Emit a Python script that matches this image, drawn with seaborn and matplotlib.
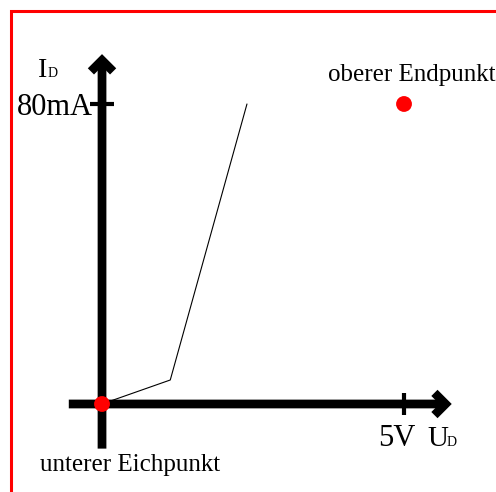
import matplotlib
matplotlib.use("Agg")
import matplotlib.pyplot as plt
import seaborn as sns
import pandas as pd
from matplotlib.patches import Rectangle

# Kennlinie (U in V, I in mA)
curve_u = [0.0, 1.13, 2.4]
curve_i = [0.0, 6.4, 80.0]

# Eichpunkte
point_names = ["unterer Eichpunkt", "oberer Endpunkt"]
point_u = [0.0, 5.0]
point_i = [0.0, 80.0]

# Achsenmarken
tick_u = 5.0
tick_i = 80.0
tick_u_label = "5V"
tick_i_label = "80mA"

sns.set_style("white")
plt.rcParams["font.family"] = ["Liberation Serif", "DejaVu Serif"]
plt.rcParams["text.color"] = "black"

fig = plt.figure(figsize=(4.96, 4.92), dpi=100)
ax = fig.add_axes([0, 0, 1, 1])
ax.set_xlim(-1.689, 6.523)
ax.set_ylim(-23.47, 107.73)
ax.axis("off")

# Achsen mit Pfeilen
arrow = dict(arrowstyle="->, head_length=0.8, head_width=0.8", lw=6.3,
             color="black", shrinkA=0, shrinkB=0, joinstyle="miter",
             capstyle="butt")
ax.annotate("", xy=(5.79, 0), xytext=(-0.55, 0), arrowprops=arrow)
ax.annotate("", xy=(0, 93.3), xytext=(0, -11.9), arrowprops=arrow)

# Striche
ax.plot([tick_u, tick_u], [-2.9, 2.9], color="black", lw=3, solid_capstyle="butt")
ax.plot([-0.2, 0.2], [tick_i, tick_i], color="black", lw=3, solid_capstyle="butt")

df_curve = pd.DataFrame({"U": curve_u, "I": curve_i})
sns.lineplot(data=df_curve, x="U", y="I", ax=ax, color="black", lw=0.8,
             sort=False, estimator=None)

df_pts = pd.DataFrame({"U": point_u, "I": point_i, "name": point_names})
sns.scatterplot(data=df_pts, x="U", y="I", ax=ax, color="red", s=130,
                edgecolor="none", zorder=5, legend=False)

# Beschriftungen
ax.text(-0.15, 77.1, tick_i_label, ha="right", va="baseline", fontsize=22)
ax.text(4.57, -11.2, tick_u_label, ha="left", va="baseline", fontsize=22)
ax.text(-1.06, 87.2, "I", ha="left", va="baseline", fontsize=20)
ax.text(-0.91, 87.2, "D", ha="left", va="baseline", fontsize=10)
ax.text(5.38, -11.2, "U", ha="left", va="baseline", fontsize=21)
ax.text(5.71, -11.2, "D", ha="left", va="baseline", fontsize=10)
ax.text(5.12, 86.1, point_names[1], ha="center", va="baseline", fontsize=18)
ax.text(-1.03, -17.9, point_names[0], ha="left", va="baseline", fontsize=18)

# roter Rahmen (links und oben)
fig.add_artist(Rectangle((11 / 496, -0.2), 2.0, 1.2 - 10.5 / 492,
                         transform=fig.transFigure, fill=False,
                         edgecolor="red", lw=2.2))

fig.savefig("out.png", dpi=100)
